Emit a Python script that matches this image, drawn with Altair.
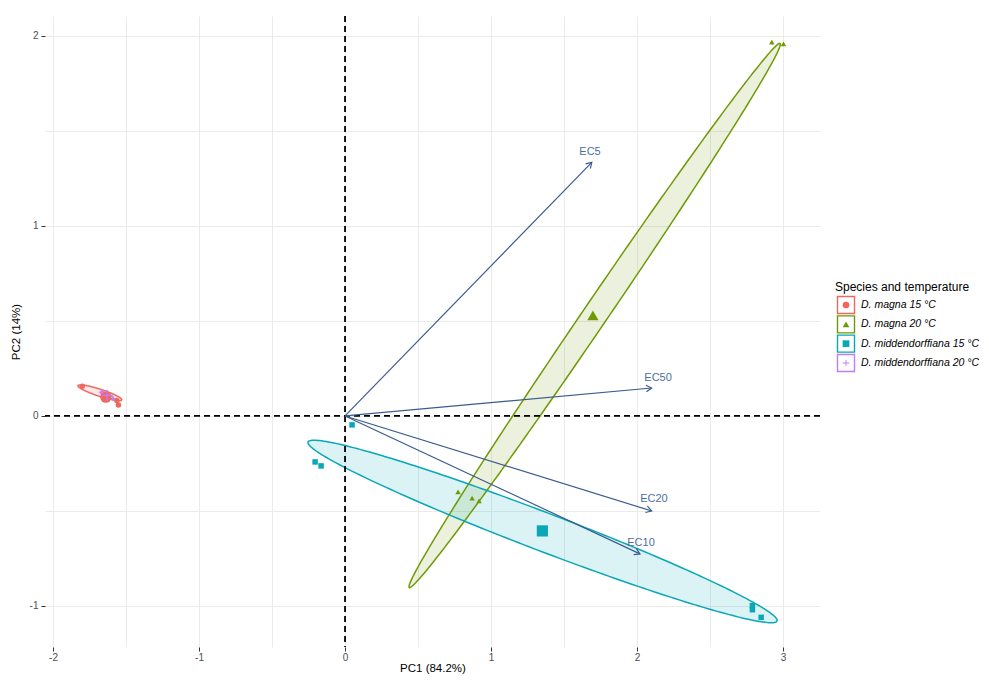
import altair as alt
import numpy as np
import pandas as pd

# ---------------- data ----------------
groups = ["D. magna 15 °C", "D. magna 20 °C",
          "D. middendorffiana 15 °C", "D. middendorffiana 20 °C"]
legend_title = "Species and temperature"
colors = ["#F0675F", "#6F9A05", "#08A8B6", "#C27CF6"]
THIN_CROSS = "M-1,-0.13H-0.13V-1H0.13V-0.13H1V0.13H0.13V1H-0.13V0.13H-1Z"
shapes = ["circle", "triangle-up", "square", THIN_CROSS]

# individual samples (PC scores)
obs_group = [0, 0, 0,
             1, 1, 1, 1, 1,
             2, 2, 2, 2, 2, 2,
             3, 3, 3]
obs_pc1 = [-1.80, -1.563, -1.552,
           2.923, 3.003, 0.774, 0.870, 0.918,
           0.048, -0.205, -0.164, 2.79, 2.79, 2.85,
           -1.67, -1.63, -1.59]
obs_pc2 = [0.156, 0.081, 0.058,
           1.967, 1.958, -0.400, -0.432, -0.447,
           -0.047, -0.242, -0.263, -0.998, -1.020, -1.060,
           0.125, 0.108, 0.092]

# ellipse geometry per group: centre, semi-axis vector a, conjugate semi-axis vector b
ell_cx = [-1.679, 1.71, 1.353, -1.63]
ell_cy = [0.122, 0.529, -0.608, 0.108]
ell_ax = [0.150, 1.27, 1.606, 0.045]
ell_ay = [-0.0376, 1.432, -0.471, -0.017]
ell_bx = [-0.0075, 0.069, -0.047, -0.004]
ell_by = [-0.0175, -0.036, -0.094, -0.010]

# loading arrows
arrow_names = ["EC5", "EC10", "EC20", "EC50"]
arrow_pc1 = [1.69, 2.02, 2.10, 2.10]
arrow_pc2 = [1.335, -0.726, -0.500, 0.147]
label_pc1 = [1.678, 2.027, 2.116, 2.144]
label_pc2 = [1.389, -0.668, -0.437, 0.200]

x_ticks = [-2, -1.5, -1, -0.5, 0, 0.5, 1, 1.5, 2, 2.5, 3]
y_ticks = [-1, -0.5, 0, 0.5, 1, 1.5, 2]
x_domain = [-2.055, 3.253]
y_domain = [-1.216, 2.105]

FONT = "Liberation Sans"
ARROW_COL = "#3A5C8E"
LABEL_COL = "#4A6FA3"

# ---------------- frames ----------------
obs = pd.DataFrame({
    "grp": [groups[i] for i in obs_group],
    "pc1": obs_pc1, "pc2": obs_pc2,
})
means = obs.groupby("grp", as_index=False)[["pc1", "pc2"]].mean()

area_rows, line_rows = [], []
for i, g in enumerate(groups):
    cx, cy = ell_cx[i], ell_cy[i]
    ax, ay, bx, by = ell_ax[i], ell_ay[i], ell_bx[i], ell_by[i]
    t = np.linspace(0, 2 * np.pi, 241)
    xs = cx + ax * np.cos(t) + bx * np.sin(t)
    ys = cy + ay * np.cos(t) + by * np.sin(t)
    for k in range(len(t)):
        line_rows.append({"grp": g, "k": k, "pc1": xs[k], "pc2": ys[k]})
    t0 = np.arctan2(bx, ax)
    ta = np.linspace(t0, t0 + np.pi, 400)
    tb = np.linspace(t0 + np.pi, t0 + 2 * np.pi, 400)
    xa = cx + ax * np.cos(ta) + bx * np.sin(ta)
    ya = cy + ay * np.cos(ta) + by * np.sin(ta)
    xb = cx + ax * np.cos(tb) + bx * np.sin(tb)
    yb = cy + ay * np.cos(tb) + by * np.sin(tb)
    gx = np.linspace(xb[0], xb[-1], 400)
    y1 = np.interp(gx, xa[::-1], ya[::-1])
    y2 = np.interp(gx, xb, yb)
    for k in range(len(gx)):
        area_rows.append({"grp": g, "pc1": gx[k], "lo": y1[k], "hi": y2[k]})
ell_area = pd.DataFrame(area_rows)
ell_line = pd.DataFrame(line_rows)

arrows = pd.DataFrame({
    "name": arrow_names,
    "pc1": arrow_pc1, "pc2": arrow_pc2,
    "x0": [0.0] * 4, "y0": [0.0] * 4,
    "lx": label_pc1, "ly": label_pc2,
})
# head rotation (pixel space: 146 px per PC1 unit, 190 px per PC2 unit)
arrows["angle"] = (np.degrees(np.arctan2(arrows["pc1"] * 146.0, arrows["pc2"] * 190.0)) + 360) % 360

zero = pd.DataFrame({"v": [0.0]})
legend_df = pd.DataFrame({"grp": groups})
legend_title_df = pd.DataFrame({"t": [legend_title]})

# ---------------- scales / axes ----------------
major_test = "datum.value % 1 === 0"
x_axis = alt.Axis(
    values=x_ticks, labelExpr="datum.value % 1 === 0 ? '' + datum.value : ''",
    title="PC1 (84.2%)", domain=False, grid=True,
    gridColor="#EBEBEB", gridWidth=1,
    tickOpacity={"condition": {"test": major_test, "value": 1}, "value": 0},
    tickColor="#333333", tickSize=4, tickWidth=1,
    labelFontSize=10, labelColor="#4D4D4D", labelPadding=1, labelFont=FONT,
    titleFontSize=11.5, titleFontWeight="normal", titleColor="#000000",
    titleFont=FONT, titlePadding=0,
)
y_axis = alt.Axis(
    values=y_ticks, labelExpr="datum.value % 1 === 0 ? '' + datum.value : ''",
    title="PC2 (14%)", domain=False, grid=True,
    gridColor="#EBEBEB", gridWidth=1,
    tickOpacity={"condition": {"test": major_test, "value": 1}, "value": 0},
    tickColor="#333333", tickSize=4, tickWidth=1,
    labelFontSize=10, labelColor="#4D4D4D", labelPadding=3, labelFont=FONT,
    titleFontSize=11.5, titleFontWeight="normal", titleColor="#000000",
    titleFont=FONT, titlePadding=8,
)
xs_ = alt.Scale(domain=x_domain, nice=False, zero=False)
ys_ = alt.Scale(domain=y_domain, nice=False, zero=False)

color_scale = alt.Scale(domain=groups, range=colors)
shape_scale = alt.Scale(domain=groups, range=shapes)
col_enc = alt.Color("grp:N", scale=color_scale, legend=None)
shp_enc = alt.Shape("grp:N", scale=shape_scale, legend=None)

# ---------------- plot layers ----------------
fill_layer = alt.Chart(ell_area).mark_area(opacity=0.14).encode(
    x=alt.X("pc1:Q", scale=xs_, axis=x_axis),
    y=alt.Y("lo:Q", scale=ys_, axis=y_axis, stack=None),
    y2="hi:Q",
    color=col_enc,
)

outline_layer = alt.Chart(ell_line).mark_line(strokeWidth=1.5).encode(
    x=alt.X("pc1:Q", scale=xs_, axis=x_axis),
    y=alt.Y("pc2:Q", scale=ys_, axis=y_axis),
    order=alt.Order("k:Q"),
    color=col_enc,
)

vline = alt.Chart(zero).mark_rule(color="#000000", strokeDash=[6, 4], strokeWidth=1.8).encode(
    x=alt.X("v:Q", scale=xs_, axis=x_axis))
hline = alt.Chart(zero).mark_rule(color="#000000", strokeDash=[6, 4], strokeWidth=1.8).encode(
    y=alt.Y("v:Q", scale=ys_, axis=y_axis))

obs_layer = alt.Chart(obs).mark_point(filled=True, opacity=1, size=30).encode(
    x=alt.X("pc1:Q", scale=xs_, axis=x_axis),
    y=alt.Y("pc2:Q", scale=ys_, axis=y_axis),
    color=col_enc, shape=shp_enc,
)
mean_layer = alt.Chart(means).mark_point(filled=True, opacity=1, size=125).encode(
    x=alt.X("pc1:Q", scale=xs_, axis=x_axis),
    y=alt.Y("pc2:Q", scale=ys_, axis=y_axis),
    color=col_enc, shape=shp_enc,
)

arrow_lines = alt.Chart(arrows).mark_rule(color=ARROW_COL, strokeWidth=1.2).encode(
    x=alt.X("x0:Q", scale=xs_, axis=x_axis),
    y=alt.Y("y0:Q", scale=ys_, axis=y_axis),
    x2="pc1:Q", y2="pc2:Q",
)
arrow_heads = alt.Chart(arrows).mark_point(
    shape="M-0.6,1L0,0L0.6,1", filled=False, stroke=ARROW_COL, strokeWidth=1.2,
    size=121, opacity=1,
).encode(
    x=alt.X("pc1:Q", scale=xs_, axis=x_axis),
    y=alt.Y("pc2:Q", scale=ys_, axis=y_axis),
    angle=alt.Angle("angle:Q", scale=None),
)
arrow_text = alt.Chart(arrows).mark_text(
    color=LABEL_COL, fontSize=11, font=FONT, align="center", baseline="middle",
).encode(
    x=alt.X("lx:Q", scale=xs_, axis=x_axis),
    y=alt.Y("ly:Q", scale=ys_, axis=y_axis),
    text="name:N",
)

main = alt.layer(
    fill_layer, outline_layer, vline, hline, obs_layer, mean_layer,
    arrow_lines, arrow_heads, arrow_text,
)

# ---------------- legend (drawn with marks, rows from the groups list) ----------------
LEG_SYM_X = 801      # px from plot-area left
LEG_LAB_X = 816
LEG_TITLE_X = 790
LEG_TITLE_Y = 271
row_scale = alt.Scale(type="point", domain=groups, range=[289, 347], padding=0)
row_enc = alt.Y("grp:N", scale=row_scale, axis=None)

leg_title = alt.Chart(legend_title_df).mark_text(
    align="left", baseline="middle", fontSize=12, font=FONT, color="#000000",
).encode(x=alt.value(LEG_TITLE_X), y=alt.value(LEG_TITLE_Y), text="t:N")
leg_box = alt.Chart(legend_df).mark_point(
    shape="square", size=289, filled=False, strokeWidth=1.4, opacity=1,
).encode(x=alt.value(LEG_SYM_X), y=row_enc, color=col_enc)
leg_sym = alt.Chart(legend_df).mark_point(filled=True, size=45, opacity=1).encode(
    x=alt.value(LEG_SYM_X), y=row_enc, color=col_enc, shape=shp_enc)
leg_lab = alt.Chart(legend_df).mark_text(
    align="left", baseline="middle", fontSize=10.5, font=FONT, fontStyle="italic",
    color="#000000",
).encode(x=alt.value(LEG_LAB_X), y=row_enc, text="grp:N")

legend = alt.layer(leg_box, leg_sym, leg_lab, leg_title)

chart = alt.layer(main, legend).resolve_scale(y="independent").properties(
    width=775, height=631,
    autosize=alt.AutoSizeParams(type="none"),
    padding={"left": 37, "top": 8, "right": 161, "bottom": 28},
    background="white",
).configure(font=FONT, view=alt.ViewConfig(stroke=None))

chart.save("out.html", embed_options={"renderer": "svg", "actions": False})
